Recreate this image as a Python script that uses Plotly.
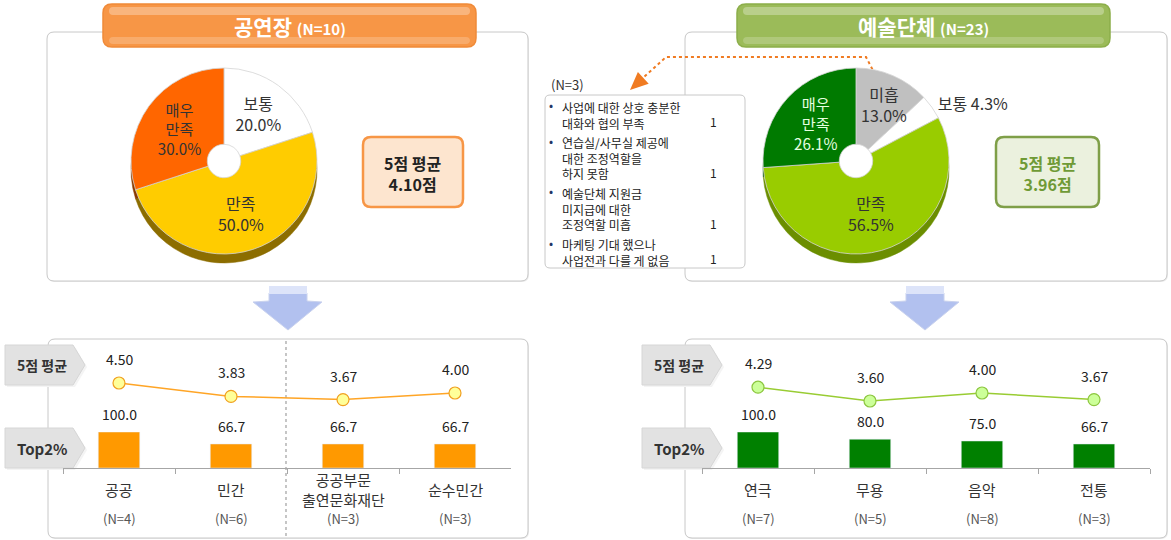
import plotly.graph_objects as go

W, H = 1171, 540
FONT = "Noto Sans CJK KR"

# ---- top: satisfaction pies ----
hall_title = '공연장'
hall_n = 10
hall_labels = ['보통', '만족', '매우<br>만족']
hall_values = [20.0, 50.0, 30.0]
hall_avg = 4.10

org_title = '예술단체'
org_n = 23
org_labels = ['미흡', '보통', '만족', '매우<br>만족']
org_values = [13.0, 4.3, 56.5, 26.1]
org_avg = 3.96

# reasons given by the unsatisfied groups
note_n = 3
note_items = [
    ['사업에 대한 상호 충분한', '대화와 협의 부족'],
    ['연습실/사무실 제공에', '대한 조정역할을', '하지 못함'],
    ['예술단체 지원금', '미지급에 대한', '조정역할 미흡'],
    ['마케팅 기대 했으나', '사업전과 다를 게 없음'],
]
note_counts = [1, 1, 1, 1]

# ---- bottom: by sub group ----
hall_cats = ['공공', '민간', '공공부문<br>출연문화재단', '순수민간']
hall_ns = [4, 6, 3, 3]
hall_means = [4.50, 3.83, 3.67, 4.00]
hall_top2 = [100.0, 66.7, 66.7, 66.7]

org_cats = ['연극', '무용', '음악', '전통']
org_ns = [7, 5, 8, 3]
org_means = [4.29, 3.60, 4.00, 3.67]
org_top2 = [100.0, 80.0, 75.0, 66.7]


def X(x):
    return x / W


def Y(y):
    return 1 - y / H


def rrect(x0, y0, x1, y1, r, **kw):
    p = (f"M{X(x0+r)},{Y(y0)} L{X(x1-r)},{Y(y0)} Q{X(x1)},{Y(y0)} {X(x1)},{Y(y0+r)} "
         f"L{X(x1)},{Y(y1-r)} Q{X(x1)},{Y(y1)} {X(x1-r)},{Y(y1)} "
         f"L{X(x0+r)},{Y(y1)} Q{X(x0)},{Y(y1)} {X(x0)},{Y(y1-r)} "
         f"L{X(x0)},{Y(y0+r)} Q{X(x0)},{Y(y0)} {X(x0+r)},{Y(y0)} Z")
    return dict(type='path', xref='paper', yref='paper', path=p, layer='below', **kw)


def poly(pts, **kw):
    p = 'M' + ' L'.join(f"{X(a)},{Y(b)}" for a, b in pts) + ' Z'
    return dict(type='path', xref='paper', yref='paper', path=p, layer='below', **kw)


def txt(x, y, text, size, color, xanchor='center', yanchor='middle', **kw):
    return dict(x=X(x), y=Y(y), xref='paper', yref='paper', showarrow=False, text=text,
                xanchor=xanchor, yanchor=yanchor,
                font=dict(size=size, color=color, family=FONT), **kw)


fig = go.Figure()
shapes = []
ann = []

# panels
for x0, y0, x1, y1 in [(47, 32, 528, 281), (685, 32, 1167, 281),
                       (48, 339, 528, 538), (685, 339, 1167, 538)]:
    shapes.append(rrect(x0 + 1, y0 + 1, x1 + 1, y1 + 1, 7, fillcolor='#ececec', line=dict(width=0)))
    shapes.append(rrect(x0, y0, x1, y1, 7, fillcolor='white', line=dict(color='#c8c8c8', width=1)))

# title banners
for x0, x1, base, edge, title, n in [(103, 476, '#f79646', '#f08a38', hall_title, hall_n),
                                     (737, 1110, '#9bbb59', '#8cae4a', org_title, org_n)]:
    shapes.append(rrect(x0, 4, x1, 47, 9, fillcolor=base, line=dict(color=edge, width=1.5)))
    shapes.append(rrect(x0 + 6, 7, x1 - 6, 15, 4, fillcolor='rgba(255,255,255,0.3)', line=dict(width=0)))
    shapes.append(rrect(x0 + 6, 37, x1 - 6, 44, 4, fillcolor='rgba(255,255,255,0.2)', line=dict(width=0)))
    ann.append(txt((x0 + x1) / 2, 26,
                   f'<b><span style="font-size:21px">{title}</span> '
                   f'<span style="font-size:15px">(N={n})</span></b>', 21, 'white'))

# average boxes
for x0, x1, fill, edge, col, v in [(363, 463, '#fde5cf', '#f79646', '#222222', hall_avg),
                                   (996, 1099, '#ebf1de', '#7f9f48', '#6f9a36', org_avg)]:
    shapes.append(rrect(x0, 137, x1, 207, 8, fillcolor=fill, line=dict(color=edge, width=2.5)))
    ann.append(txt((x0 + x1) / 2, 173, f'<b>5점 평균<br>{v:.2f}점</b>', 16, col))

# notes box + dotted arrow
shapes.append(rrect(545, 95, 745, 268, 5, fillcolor='white', line=dict(color='#c8c8c8', width=1)))
shapes.append(dict(type='path', xref='paper', yref='paper', layer='below',
                   path=f"M{X(878)},{Y(80)} L{X(866)},{Y(57)} L{X(666)},{Y(57)} L{X(644)},{Y(77)}",
                   line=dict(color='#f07b22', width=2, dash='dot')))
shapes.append(poly([(630, 90), (637.9, 71.9), (648.7, 83.7)], fillcolor='#f07b22', line=dict(width=0)))
ann.append(txt(549, 84, f'(N={note_n})', 13, '#333', xanchor='left'))
item_tops = [98, 133, 184, 235]
line_h = 15.6
for lines, cnt, t in zip(note_items, note_counts, item_tops):
    ann.append(txt(551, t + 7, '•', 12, '#1f3864', borderpad=0))
    ann.append(txt(561, t, '<br>'.join(lines), 12, '#222', xanchor='left', yanchor='top',
                   align='left', borderpad=0))
    ann.append(txt(718, t + (len(lines) - 0.5) * line_h, str(cnt), 12, '#222',
                   xanchor='right', borderpad=0))

# down arrows
for cx in [288, 925]:
    shapes.append(poly([(cx - 19, 293), (cx + 19, 293), (cx + 19, 301), (cx + 34, 302),
                        (cx, 330), (cx - 35, 302), (cx - 19, 301)],
                       fillcolor='#b2c1ef', line=dict(color='#c9d2ee', width=1)))
    shapes.append(poly([(cx - 19, 286), (cx + 19, 286), (cx + 19, 294), (cx - 19, 294)],
                       fillcolor='#dde4f9', line=dict(width=0)))

# row tags
for tx in [5, 642]:
    for y0, label, size in [(345, '5점 평균', 14), (428, 'Top2%', 15)]:
        pts = [(tx, y0), (tx + 68, y0), (tx + 80, y0 + 20), (tx + 68, y0 + 40), (tx, y0 + 40)]
        shapes.append(poly([(a + 2, b + 2) for a, b in pts], fillcolor='#f4f4f4', line=dict(width=0)))
        shapes.append(poly(pts, fillcolor='#e2e2e2', line=dict(color='#d6d6d6', width=1)))
        ann.append(txt(tx + 37, y0 + 20, f'<b>{label}</b>', size, '#333'))

# dotted separator between 공공/민간 and 공공부문/순수민간
shapes.append(dict(type='line', xref='paper', yref='paper', layer='below',
                   x0=X(286), x1=X(286), y0=Y(341), y1=Y(536),
                   line=dict(color='#a0a0a0', width=1.2, dash='dot')))


# ---- pies (rim first for a bit of depth) ----
def add_pie(labels, values, colors, rim, tcolors, tpos, ttmpl, cx, cy, r):
    fig.add_trace(go.Pie(
        labels=labels, values=values, sort=False, direction='clockwise', rotation=0,
        marker=dict(colors=rim, line=dict(color=rim, width=0.5)), hole=0.5,
        textinfo='none', hoverinfo='skip',
        domain=dict(x=[X(cx - r), X(cx + r)], y=[Y(cy + r + 9), Y(cy - r + 9)])))
    fig.add_trace(go.Pie(
        labels=labels, values=values, sort=False, direction='clockwise', rotation=0,
        marker=dict(colors=colors, line=dict(color='#d4d4d4', width=0.8)), hole=0.18,
        text=labels, texttemplate=ttmpl, textposition=tpos, insidetextorientation='horizontal',
        textfont=dict(size=16, color=tcolors, family=FONT),
        domain=dict(x=[X(cx - r), X(cx + r)], y=[Y(cy + r), Y(cy - r)])))


add_pie(hall_labels, hall_values,
        ['#ffffff', '#ffcc00', '#ff6600'], ['#9a9a9a', '#8c6d00', '#8a3a00'],
        ['#333333', '#333333', '#333333'], 'inside',
        '%{text}<br>%{value:.1f}%', 224, 161, 93)
# the thin 미흡 slice would get a shrunken label, so it is written beside the pie instead
add_pie(org_labels, org_values,
        ['#c0c0c0', '#ffffff', '#99cc00', '#007a00'], ['#7a7a7a', '#9a9a9a', '#6b8e00', '#004d00'],
        ['#333333', '#333333', '#333333', '#e6ffe0'], ['none', 'outside', 'inside', 'inside'],
        ['', '%{text} %{value:.1f}%',
         '%{text}<br>%{value:.1f}%', '%{text}<br>%{value:.1f}%'], 856, 161, 93)
ann.append(txt(884, 104, f'{org_labels[0]}<br>{org_values[0]:.1f}%', 16, '#333'))


# ---- bottom charts ----
def add_panel(cats, ns, means, top2, xa, yb, yl, bar_col, line_col, mk_fill, mk_edge):
    fig.add_trace(go.Bar(x=cats, y=top2, marker=dict(color=bar_col), xaxis=xa, yaxis=yb,
                         hoverinfo='skip'))
    fig.add_trace(go.Scatter(x=cats, y=means, mode='lines+markers', xaxis=xa, yaxis=yl,
                             line=dict(color=line_col, width=1.5), cliponaxis=False,
                             marker=dict(size=12, color=mk_fill, line=dict(color=mk_edge, width=1.2)),
                             hoverinfo='skip'))
    base = dict(showarrow=False, xref=xa, xanchor='center', yanchor='middle')
    for c, n, m, t in zip(cats, ns, means, top2):
        ann.append(dict(base, x=c, y=m, yref=yl, yshift=24, text=f'{m:.2f}',
                        font=dict(size=14, color='#222', family=FONT)))
        ann.append(dict(base, x=c, y=t, yref=yb, yshift=18, text=f'{t:.1f}',
                        font=dict(size=14, color='#222', family=FONT)))
        ann.append(dict(base, x=c, y=Y(489), yref='paper', text=c,
                        font=dict(size=15, color='#333', family=FONT)))
        ann.append(dict(base, x=c, y=Y(518), yref='paper', text=f'(N={n})',
                        font=dict(size=13, color='#555', family=FONT)))


add_panel(hall_cats, hall_ns, hall_means, hall_top2, 'x', 'y', 'y2',
          '#ff9900', '#ffa526', '#ffff99', '#f0a020')
add_panel(org_cats, org_ns, org_means, org_top2, 'x2', 'y3', 'y4',
          '#008000', '#99cc33', '#ccff99', '#8cc63f')

xcommon = dict(type='category', range=[-0.5, 3.5], showgrid=False, zeroline=False,
               showline=True, linecolor='#a6a6a6', ticks='outside', tickson='boundaries',
               ticklen=5, tickcolor='#a6a6a6', showticklabels=False, fixedrange=True)
ybar = dict(range=[0, 100], domain=[Y(468), Y(432)], visible=False, fixedrange=True)
yline = dict(range=[2.65, 6.4], domain=[Y(420), Y(345)], visible=False, fixedrange=True)

fig.update_layout(
    width=W, height=540,
    margin=dict(l=0, r=0, t=0, b=0),
    paper_bgcolor='white', plot_bgcolor='rgba(0,0,0,0)',
    showlegend=False, bargap=0.63,
    font=dict(family=FONT, color='#333'),
    xaxis=dict(xcommon, domain=[X(63), X(511)], anchor='y'),
    yaxis=dict(ybar, anchor='x'),
    yaxis2=dict(yline, anchor='x'),
    xaxis2=dict(xcommon, domain=[X(702), X(1150)], anchor='y3'),
    yaxis3=dict(ybar, anchor='x2'),
    yaxis4=dict(yline, anchor='x2'),
    shapes=shapes,
    annotations=ann,
)

# the page's default body margin would push the figure 8px down/right
fig.write_html("out.html", config=dict(displayModeBar=False),
               post_script="document.body.style.margin='0';")
